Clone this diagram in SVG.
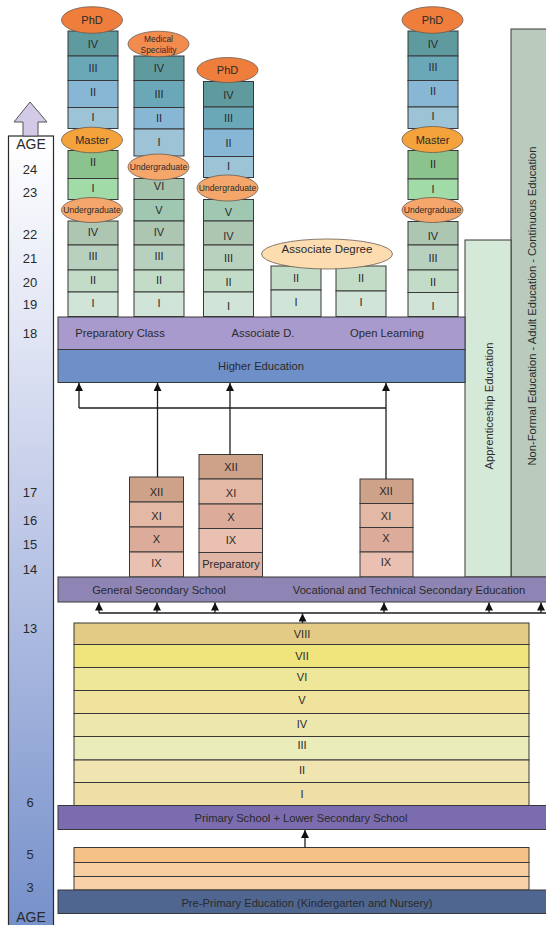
<svg xmlns="http://www.w3.org/2000/svg" width="546" height="925" viewBox="0 0 546 925">
<defs>
<linearGradient id="ageg" x1="0" y1="0" x2="0" y2="1">
<stop offset="0" stop-color="#ffffff"/>
<stop offset="0.25" stop-color="#e1e5f4"/>
<stop offset="0.55" stop-color="#b6c2e4"/>
<stop offset="1" stop-color="#7590ca"/>
</linearGradient>
<marker id="ah" viewBox="0 0 10 10" refX="10" refY="5" markerWidth="10" markerHeight="8" markerUnits="userSpaceOnUse" orient="auto">
<path d="M0,0 L10,5 L0,10 z" fill="#111"/>
</marker>
<style>
text{font-family:"Liberation Sans",Arial,sans-serif;fill:#2a2a2a;text-anchor:middle;dominant-baseline:central}
.b{stroke:#383838;stroke-width:1}
.el{stroke:#6a5a50;stroke-width:0.8}
.n{font-size:11px}
.lab{font-size:11.2px}
.ug{font-size:8.6px}
.age{font-size:13px}
.conn{stroke:#1e1e1e;stroke-width:1.3;fill:none}
.arr{marker-end:url(#ah)}
</style>
</defs>

<g id="age-bar">
<rect x="8.5" y="136" width="45" height="795" fill="url(#ageg)" stroke="#2a2a2a" stroke-width="1.2"/>
<path d="M30,102 L47,122 L38,122 L38,136 L23,136 L23,122 L14,122 Z" fill="#d2cae6" stroke="#555" stroke-width="1"/>
<text x="31" y="144" style="font-size:14px">AGE</text>
<text class="age" x="30" y="169">24</text>
<text class="age" x="30" y="192.5">23</text>
<text class="age" x="30" y="234.5">22</text>
<text class="age" x="30" y="258">21</text>
<text class="age" x="30" y="282">20</text>
<text class="age" x="30" y="304">19</text>
<text class="age" x="30" y="333">18</text>
<text class="age" x="30" y="492">17</text>
<text class="age" x="30" y="520">16</text>
<text class="age" x="30" y="544">15</text>
<text class="age" x="30" y="569">14</text>
<text class="age" x="30" y="628">13</text>
<text class="age" x="30" y="802">6</text>
<text class="age" x="30" y="854">5</text>
<text class="age" x="30" y="887">3</text>
<text x="31" y="917" style="font-size:14px">AGE</text>
</g>

<g id="non-formal">
<rect class="b" x="511" y="29" width="40" height="548" fill="#b8cbbd"/>
<text class="lab" transform="translate(532,306) rotate(-90)">Non-Formal Education - Adult Education - Continuous Education</text>
</g>
<g id="apprenticeship">
<rect class="b" x="465" y="240" width="46" height="337" fill="#d5e9d9"/>
<text class="lab" transform="translate(488.5,406) rotate(-90)">Apprenticeship Education</text>
</g>

<g id="col1">
<rect class="b" x="68" y="31" width="50" height="25" fill="#5f9a9f"/><text class="n" x="93" y="44">IV</text>
<rect class="b" x="68" y="56" width="50" height="24.5" fill="#6aa8b8"/><text class="n" x="93" y="68">III</text>
<rect class="b" x="68" y="80.5" width="50" height="27" fill="#87b7d4"/><text class="n" x="93" y="92">II</text>
<rect class="b" x="68" y="107.5" width="50" height="21" fill="#9cc3d6"/><text class="n" x="93" y="117">I</text>
<rect class="b" x="68" y="150.5" width="50" height="28" fill="#8bc38e"/><text class="n" x="93" y="162">II</text>
<rect class="b" x="68" y="178.5" width="50" height="21" fill="#a0dba8"/><text class="n" x="93" y="188">I</text>
<rect class="b" x="68" y="221" width="50" height="24" fill="#adc6b2"/><text class="n" x="93" y="232">IV</text>
<rect class="b" x="68" y="245" width="50" height="25" fill="#b8d1be"/><text class="n" x="93" y="256">III</text>
<rect class="b" x="68" y="270" width="50" height="22" fill="#c3dcc8"/><text class="n" x="93" y="280">II</text>
<rect class="b" x="68" y="292" width="50" height="24.5" fill="#d0e4d7"/><text class="n" x="93" y="303">I</text>
<ellipse class="el" cx="92" cy="20" rx="30.5" ry="13.3" fill="#ef7d3b"/><text class="n" x="92" y="20">PhD</text>
<ellipse class="el" cx="92" cy="140" rx="30.5" ry="12.8" fill="#f4a33c"/><text class="n" x="92" y="140">Master</text>
<ellipse class="el" cx="92" cy="210" rx="30.5" ry="12.5" fill="#f5a76b"/><text class="ug" x="92" y="210">Undergraduate</text>
</g>

<g id="col2">
<rect class="b" x="134" y="56" width="50" height="24.5" fill="#5f9a9f"/><text class="n" x="159" y="68">IV</text>
<rect class="b" x="134" y="80.5" width="50" height="27" fill="#6aa8b8"/><text class="n" x="159" y="94">III</text>
<rect class="b" x="134" y="107.5" width="50" height="21.5" fill="#87b7d4"/><text class="n" x="159" y="118">II</text>
<rect class="b" x="134" y="129" width="50" height="27" fill="#9cc3d6"/><text class="n" x="159" y="142">I</text>
<rect class="b" x="134" y="178.5" width="50" height="21" fill="#a4c3ad"/><text class="n" x="159" y="186">VI</text>
<rect class="b" x="134" y="199.5" width="50" height="21.5" fill="#9fc7b2"/><text class="n" x="159" y="210">V</text>
<rect class="b" x="134" y="221" width="50" height="24" fill="#adc6b2"/><text class="n" x="159" y="232">IV</text>
<rect class="b" x="134" y="245" width="50" height="25" fill="#b8d1be"/><text class="n" x="159" y="256">III</text>
<rect class="b" x="134" y="270" width="50" height="22" fill="#c3dcc8"/><text class="n" x="159" y="280">II</text>
<rect class="b" x="134" y="292" width="50" height="24.5" fill="#d0e4d7"/><text class="n" x="159" y="303">I</text>
<ellipse class="el" cx="158.5" cy="44" rx="30.5" ry="12.8" fill="#f28c4e"/>
<text x="158.5" y="38.5" style="font-size:8.4px">Medical</text>
<text x="158.5" y="49.5" style="font-size:8.4px">Speciality</text>
<ellipse class="el" cx="158.5" cy="167" rx="30.5" ry="13" fill="#f5a76b"/><text class="ug" x="158.5" y="167">Undergraduate</text>
</g>

<g id="col3">
<rect class="b" x="203.5" y="81.5" width="50" height="25.5" fill="#5f9a9f"/><text class="n" x="228.5" y="95">IV</text>
<rect class="b" x="203.5" y="107" width="50" height="22" fill="#6aa8b8"/><text class="n" x="228.5" y="118">III</text>
<rect class="b" x="203.5" y="129" width="50" height="27.5" fill="#87b7d4"/><text class="n" x="228.5" y="143">II</text>
<rect class="b" x="203.5" y="156.5" width="50" height="21" fill="#9cc3d6"/><text class="n" x="228.5" y="166">I</text>
<rect class="b" x="203.5" y="199.5" width="50" height="21.5" fill="#9fc7b2"/><text class="n" x="228.5" y="212">V</text>
<rect class="b" x="203.5" y="221" width="50" height="24" fill="#adc6b2"/><text class="n" x="228.5" y="236">IV</text>
<rect class="b" x="203.5" y="245" width="50" height="25" fill="#b8d1be"/><text class="n" x="228.5" y="258">III</text>
<rect class="b" x="203.5" y="270" width="50" height="22" fill="#c3dcc8"/><text class="n" x="228.5" y="282">II</text>
<rect class="b" x="203.5" y="292" width="50" height="24.5" fill="#d0e4d7"/><text class="n" x="228.5" y="306">I</text>
<ellipse class="el" cx="227.5" cy="70" rx="30.5" ry="12.5" fill="#ef7d3b"/><text class="n" x="227.5" y="70">PhD</text>
<ellipse class="el" cx="227.5" cy="188" rx="30.5" ry="13" fill="#f5a76b"/><text class="ug" x="227.5" y="188">Undergraduate</text>
</g>

<g id="associate">
<rect class="b" x="271" y="266" width="50" height="24" fill="#c3dcc8"/><text class="n" x="296" y="278">II</text>
<rect class="b" x="271" y="290" width="50" height="26.5" fill="#d0e4d7"/><text class="n" x="296" y="302">I</text>
<rect class="b" x="336" y="266" width="50" height="25" fill="#c3dcc8"/><text class="n" x="361" y="278">II</text>
<rect class="b" x="336" y="291" width="50" height="25.5" fill="#d0e4d7"/><text class="n" x="361" y="302">I</text>
<ellipse class="el" cx="327" cy="254" rx="65.5" ry="15" fill="#fddcb0"/>
<text x="327" y="248.5" style="font-size:11.5px">Associate Degree</text>
</g>

<g id="col4">
<rect class="b" x="408" y="31" width="50" height="25" fill="#5f9a9f"/><text class="n" x="433" y="44">IV</text>
<rect class="b" x="408" y="56" width="50" height="24.5" fill="#6aa8b8"/><text class="n" x="433" y="67">III</text>
<rect class="b" x="408" y="80.5" width="50" height="26.5" fill="#87b7d4"/><text class="n" x="433" y="91">II</text>
<rect class="b" x="408" y="107" width="50" height="21.5" fill="#9cc3d6"/><text class="n" x="433" y="116">I</text>
<rect class="b" x="408" y="150.5" width="50" height="28.5" fill="#8bc38e"/><text class="n" x="433" y="164">II</text>
<rect class="b" x="408" y="179" width="50" height="20.5" fill="#a0dba8"/><text class="n" x="433" y="189">I</text>
<rect class="b" x="408" y="221.5" width="50" height="23.5" fill="#adc6b2"/><text class="n" x="433" y="236">IV</text>
<rect class="b" x="408" y="245" width="50" height="25" fill="#b8d1be"/><text class="n" x="433" y="258">III</text>
<rect class="b" x="408" y="270" width="50" height="22.5" fill="#c3dcc8"/><text class="n" x="433" y="282">II</text>
<rect class="b" x="408" y="292.5" width="50" height="24" fill="#d0e4d7"/><text class="n" x="433" y="306">I</text>
<ellipse class="el" cx="432.5" cy="20" rx="30.5" ry="13.3" fill="#ef7d3b"/><text class="n" x="432.5" y="20">PhD</text>
<ellipse class="el" cx="432.5" cy="139.5" rx="30.5" ry="13" fill="#f4a33c"/><text class="n" x="432.5" y="139.5">Master</text>
<ellipse class="el" cx="432.5" cy="210" rx="30.5" ry="12.5" fill="#f5a76b"/><text class="ug" x="432.5" y="210">Undergraduate</text>
</g>

<g id="prep-band">
<rect class="b" x="58" y="317" width="407" height="32.5" fill="#a89acc"/>
<text class="lab" x="120" y="333">Preparatory Class</text>
<text class="lab" x="263" y="333">Associate D.</text>
<text class="lab" x="387" y="333">Open Learning</text>
</g>
<g id="higher-education">
<rect class="b" x="58" y="349.5" width="407" height="33" fill="#6f8fc8"/>
<text class="lab" x="261" y="366">Higher Education</text>
</g>

<g id="sec-a">
<rect class="b" x="129.5" y="477" width="54" height="25" fill="#cea189"/><text class="n" x="156.5" y="492">XII</text>
<rect class="b" x="129.5" y="502" width="54" height="25" fill="#e3b8a5"/><text class="n" x="156.5" y="516">XI</text>
<rect class="b" x="129.5" y="527" width="54" height="25" fill="#dcab99"/><text class="n" x="156.5" y="539">X</text>
<rect class="b" x="129.5" y="552" width="54" height="25" fill="#e9c0b1"/><text class="n" x="156.5" y="563">IX</text>
</g>
<g id="sec-b">
<rect class="b" x="199" y="454.5" width="63.5" height="24.5" fill="#cea189"/><text class="n" x="231" y="467">XII</text>
<rect class="b" x="199" y="479" width="63.5" height="25" fill="#e3b8a5"/><text class="n" x="231" y="493">XI</text>
<rect class="b" x="199" y="504" width="63.5" height="24.5" fill="#dcab99"/><text class="n" x="231" y="517">X</text>
<rect class="b" x="199" y="528.5" width="63.5" height="24" fill="#e9c0b1"/><text class="n" x="231" y="540">IX</text>
<rect class="b" x="199" y="552.5" width="63.5" height="24.5" fill="#e0b5a5"/><text class="n" x="231" y="563.5">Preparatory</text>
</g>
<g id="sec-c">
<rect class="b" x="360" y="479" width="53" height="24.5" fill="#cea189"/><text class="n" x="386" y="491">XII</text>
<rect class="b" x="360" y="503.5" width="53" height="24" fill="#e3b8a5"/><text class="n" x="386" y="516">XI</text>
<rect class="b" x="360" y="527.5" width="53" height="24.5" fill="#dcab99"/><text class="n" x="386" y="538">X</text>
<rect class="b" x="360" y="552" width="53" height="25" fill="#e9c0b1"/><text class="n" x="386" y="562">IX</text>
</g>

<g id="secondary-band">
<rect class="b" x="58" y="577" width="493" height="25" fill="#8e85b5"/>
<text class="lab" x="159" y="589.5">General Secondary School</text>
<text class="lab" x="409" y="589.5">Vocational and Technical Secondary Education</text>
</g>

<g id="primary-grades">
<rect class="b" x="74" y="623" width="455" height="21.5" fill="#e4cb85"/><text class="n" x="302" y="634">VIII</text>
<rect class="b" x="74" y="644.5" width="455" height="23" fill="#f0e47c"/><text class="n" x="302" y="656">VII</text>
<rect class="b" x="74" y="667.5" width="455" height="23" fill="#eee79a"/><text class="n" x="302" y="677">VI</text>
<rect class="b" x="74" y="690.5" width="455" height="23" fill="#f0e39d"/><text class="n" x="302" y="700">V</text>
<rect class="b" x="74" y="713.5" width="455" height="23" fill="#ede7ae"/><text class="n" x="302" y="724">IV</text>
<rect class="b" x="74" y="736.5" width="455" height="23.5" fill="#eaedb9"/><text class="n" x="302" y="744.5">III</text>
<rect class="b" x="74" y="760" width="455" height="22.5" fill="#f0e4b1"/><text class="n" x="302" y="770">II</text>
<rect class="b" x="74" y="782.5" width="455" height="23" fill="#efdfa6"/><text class="n" x="302" y="794">I</text>
</g>
<g id="primary-band">
<rect class="b" x="58" y="805.5" width="493" height="24" fill="#7a6caf"/>
<text class="lab" x="301" y="817.5">Primary School + Lower Secondary School</text>
</g>
<g id="preprimary-grades">
<rect class="b" x="74" y="847.5" width="455" height="15" fill="#f6c187"/>
<rect class="b" x="74" y="862.5" width="455" height="14" fill="#f8cd9f"/>
<rect class="b" x="74" y="876.5" width="455" height="13.5" fill="#f8d1a7"/>
</g>
<g id="preprimary-band">
<rect class="b" x="58" y="890" width="493" height="23.5" fill="#4f6690"/>
<text class="lab" x="307" y="902.5">Pre-Primary Education (Kindergarten and Nursery)</text>
</g>

<g id="connectors">
<polyline class="conn" points="79,408 386,408"/>
<line class="conn arr" x1="79" y1="408" x2="79" y2="383"/>
<line class="conn arr" x1="157.5" y1="477" x2="157.5" y2="383"/>
<line class="conn arr" x1="230" y1="454.5" x2="230" y2="383"/>
<line class="conn arr" x1="386" y1="479" x2="386" y2="383"/>
<line class="conn" x1="99" y1="613" x2="546" y2="613"/>
<line class="conn arr" x1="99" y1="613" x2="99" y2="602.5"/>
<line class="conn arr" x1="157" y1="613" x2="157" y2="602.5"/>
<line class="conn arr" x1="215" y1="613" x2="215" y2="602.5"/>
<line class="conn arr" x1="384" y1="613" x2="384" y2="602.5"/>
<line class="conn arr" x1="489" y1="613" x2="489" y2="602.5"/>
<line class="conn arr" x1="541" y1="613" x2="541" y2="602.5"/>
<line class="conn arr" x1="302.5" y1="623" x2="302.5" y2="613.5"/>
<line class="conn arr" x1="305" y1="847.5" x2="305" y2="830"/>
</g>
</svg>
